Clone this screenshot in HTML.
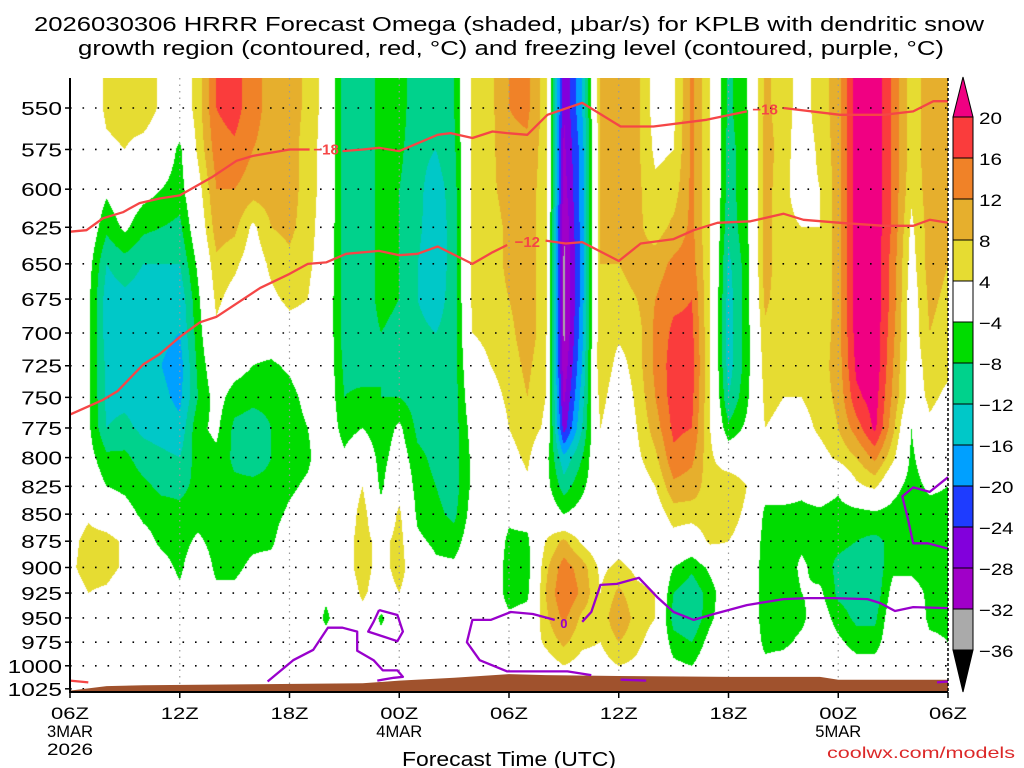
<!DOCTYPE html>
<html>
<head>
<meta charset="utf-8">
<style>
  html,body{margin:0;padding:0;background:#fff;}
  #wrap{position:relative;width:1024px;height:768px;overflow:hidden;background:#fff;}
  #field{position:absolute;left:70px;top:78px;}
  #overlay{position:absolute;left:0;top:0;}
  text{font-family:"Liberation Sans",sans-serif;}
</style>
</head>
<body>
<div id="wrap">
  <canvas id="field" width="878" height="614"></canvas>
  <svg id="overlay" width="1024" height="768">
    <text x="509" y="31" text-anchor="middle" font-size="20" textLength="950" lengthAdjust="spacingAndGlyphs" fill="#000">2026030306 HRRR Forecast Omega (shaded, μbar/s) for KPLB with dendritic snow</text>
    <text x="511" y="55" text-anchor="middle" font-size="20" textLength="866" lengthAdjust="spacingAndGlyphs" fill="#000">growth region (contoured, red, °C) and freezing level (contoured, purple, °C)</text>
    <text x="509" y="766" text-anchor="middle" font-size="20" textLength="214" lengthAdjust="spacingAndGlyphs" fill="#000">Forecast Time (UTC)</text>
    <text x="1015" y="758" text-anchor="end" font-size="16" textLength="188" lengthAdjust="spacingAndGlyphs" fill="#dc2828">coolwx.com/models</text>
    <g id="gridG"></g>
    <g id="terrainG"></g>
    <g id="linesG"></g>
    <g id="axesG"></g>
    <g id="cbarG"></g>
  </svg>
</div>
<script>
// ---------- data ----------
const levels = [550,575,600,625,650,675,700,725,750,775,800,825,850,875,900,925,950,975,1000,1025];
// omega (μbar/s) per forecast hour (0..48), values at each level above
const omegaByHour = [
 [0,0,0,0,0,0,0,0,0,0,0,0,0,2,3,1,0,0,0,0],
 [0,0,0,0,-2,-3,-3,-3,-3,-3,-2,0,3,6,6,4,0,0,0,0],
 [5,3,-3,-7,-12,-14,-14,-13,-13,-12,-7,-4,0,6,6,3,0,0,0,0],
 [6,4,0,-3,-10,-13,-14,-14,-13,-11,-7,-5,-2,3,3,0,0,0,0,0],
 [7,2,-2,-7,-12,-14,-14,-14,-14,-13,-10,-7,-5,-2,0,0,0,0,0,0],
 [3,0,-4,-8,-12,-15,-15,-16,-15,-14,-11,-9,-6,-5,-2,0,0,0,0,0],
 [0,-5,-6,-9,-12,-15,-16,-18,-17,-15,-12,-9,-7,-6,-5,-3,0,0,0,0],
 [6,5,2,0,-3,-5,-6,-7,-8,-5,-6,-7,-6,-3,0,0,0,0,0,0],
 [16,14,12,10,7,5,3,0,-2,-3,-5,-6,-7,-6,-5,-3,0,0,0,0],
 [18,15,12,9,5,2,0,-2,-6,-9,-9,-7,-6,-6,-5,-3,0,0,0,0],
 [13,12,10,3,1,0,-1,-4,-7,-10,-10,-7,-6,-5,-3,-1,4,2,0,0],
 [11,11,10,8,5,3,0,-5,-7,-8,-8,-7,-6,-5,-2,0,3,1,0,0],
 [10,10,10,9,7,5,2,-3,-6,-7,-7,-5,-3,0,0,0,0,0,0,0],
 [7,6,6,6,5,4,2,0,-2,-4,-5,-3,-1,0,0,0,0,0,0,0],
 [2,2,2,1,1,0,0,0,0,0,0,0,0,0,0,-3,-5,-2,0,0],
 [-10,-10,-10,-10,-10,-10,-10,-9,-8,-6,-3,0,0,2,2,0,0,0,0,0],
 [-10,-10,-10,-10,-10,-10,-10,-10,-7,-4,1,4,6,6,6,5,2,0,0,0],
 [-7,-7,-7,-7,-7,-7,-8,-8,-8,-7,-6,-5,-2,2,2,1,-5,-2,0,0],
 [-6,-7,-8,-8,-8,-8,-9,-9,-8,-3,-1,2,5,6,6,4,0,0,0,0],
 [-11,-11,-11,-11,-12,-12,-11,-11,-10,-9,-7,-6,-5,-3,0,0,0,0,0,0],
 [-11,-12,-14,-15,-15,-14,-12,-11,-10,-10,-9,-8,-7,-5,-3,0,0,0,0,0],
 [-8,-9,-10,-10,-10,-10,-10,-10,-10,-10,-10,-10,-9,-6,-3,0,0,0,0,0],
 [5,5,5,5,5,5,4,2,0,-2,-3,-3,-2,-1,0,0,0,0,0,0],
 [7,7,7,6,6,6,5,4,2,0,0,0,0,0,0,0,0,0,0,0],
 [12,11,10,9,9,8,7,6,5,4,2,0,-3,-5,-6,-6,-3,0,0,0],
 [13,11,10,10,10,10,10,9,8,7,5,3,-2,-5,-6,-5,-2,0,0,0],
 [6,6,6,6,6,6,6,5,4,3,-2,-2,0,4,7,8,7,5,1,0],
 [-28,-29,-30,-32,-33,-33,-33,-31,-29,-26,-15,-10,-4,9,14,16,13,9,4,0],
 [-16,-18,-18,-18,-18,-18,-17,-16,-14,-12,-8,-5,-2,3,10,11,7,5,2,0],
 [8,8,8,8,8,8,8,8,6,4,2,0,0,0,3,4,5,4,2,0],
 [9,9,9,9,8,7,5,2,0,-1,0,0,0,2,5,9,12,8,4,0],
 [9,9,9,9,9,8,6,6,5,4,3,1,0,0,3,5,6,5,3,0],
 [2,3,5,6,10,12,13,13,12,10,7,4,1,0,2,4,4,2,0,0],
 [3,4,6,9,13,15,17,18,18,17,15,11,6,2,-4,-8,-10,-6,-3,0],
 [13,13,13,13,14,16,17,18,17,16,13,10,6,0,-7,-11,-12,-8,-4,0],
 [4,4,4,4,4,4,4,4,4,4,5,6,7,5,-3,-6,-5,-2,0,0],
 [-9,-10,-10,-11,-13,-14,-14,-14,-12,-7,0,8,6,4,1,0,0,0,0,0],
 [-4.5,-5,-5,-5,-6,-6,-6,-6,-5,-3,0,4,3,2,0,0,0,0,0,0],
 [9,10,10,10,10,9,7,6,5,4,1,-2,-5,-6,-6,-6,-6,-5,-3,0],
 [6,6,5,5,5,5,5,5,4,3,0,-2,-5,-6,-7,-7,-6,-5,-2,0],
 [2,1,2,4,5,5,5,5,4,2,0,-3,-5,-5,-3,-4,-5,-3,0,0],
 [6,5,4,4,4,4,5,6,6,5,2,-1,-5,-7,-6,-3,-1,0,0,0],
 [10,10,10,10,10,10,10,10,9,8,5,-3,-6,-7,-9,-9,-6,-3,0,0],
 [22,22,22,22,22,22,22,21,19,14,8,3,-6,-8,-10,-10,-9,-6,-2,0],
 [23,23,23,23,23,23,23,23,22,21,13,5,-5,-9,-11,-11,-9,-6,-2,0],
 [15,15,15,15,14,14,13,12,11,9,5,-2,-6,-7,-5,-2,0,0,0,0],
 [6,6,5,3,2,1,1,1,1,-4,-5,-6,-7,-6,-5,-2,0,0,0,0],
 [10,10,10,10,10,9,8,6,5,3,0,-3,-6,-7,-6,-5,-5,-3,0,0],
 [8,8,8,8,8,7,6,5,3,1,-1,-4,-6,-7,-6,-5,-5,-4,0,0]
];
const cbarBounds = [20,16,12,8,4,-4,-8,-12,-16,-20,-24,-28,-32,-36];
const cbarLabels = ["20","16","12","8","4","−4","−8","−12","−16","−20","−24","−28","−32","−36"];
// -18C contour (hour, hPa); NaN = label gap
const t18Hours = [0,0.9,1.8,2.9,3.8,4.9,6,7.8,9.1,10,12,13.1,NaN,14.9,16,16.9,18,20.1,20.8,22,23.1,23.9,25,26.1,28,30.1,31.9,34.8,37,NaN,39,42.1,44.5,46.1,47.2,48];
const t18Pres  = [628,627,619,615,609,606,604,592,582,579,575,575,NaN,576,575,574,576,566,565,568,564,565,566,554,547,561,561,557,552,NaN,550,554,554,552,546,546];
// -12C contour
const t12Hours = [0,1.8,2.6,4,4.9,6,7.1,8,10.4,12,13,14,15.1,16.9,18,19,20.1,22,23.1,23.9,NaN,26,27.1,28,30,31.2,33,34.1,35.4,37.2,39,40.1,42.1,44.5,46.1,47,48];
const t12Pres  = [764,752,745,724,716,703,692,688,667,657,650,649,643,641,644,643,638,650,642,637,NaN,634,636,635,648,636,633,627,622,621,616,620,622,624,624,620,622];
// freezing level (0C) pieces
const fzA_h = [10.8,12.2,13.3,14.1,14.9,15.7,15.7,16.6,17.1,17.9,18.2,17.7,16.8];
const fzA_p = [1017,994,983,960,960,964,984,994,1005,1005,1012,1013,1016];
const fzB_h = [16.9,17.9,18.2,17.9,17.1,16.3,16.6,16.9];
const fzB_p = [942,947,964,974,969,964,954,942];
const fzC_h = [28.5,27.2,25.3,23.9,22.4,21.7,22,23,24.1,25.3,26.5,NaN,28,28.5,29,29.9,31.1,32.1,33,34.1,35.2,37,39,40.3,41.7,43.6,44.3,45.1,46.1,48];
const fzC_p = [1010,1006,1006,1006,994,975,952,952,944,946,952,NaN,954,944,917,916,910,929,944,952,946,937,931,930,930,931,935,943,939,940];
const fzD_h = [30.1,31.5];
const fzD_p = [1015,1016];
const fzE_h = [47.4,48];
const fzE_p = [1018,1017];
const fzF_h = [48,47,46.1,45.5,45.8,46.1,46.9,48];
const fzF_p = [817,830,826,834,854,877,877,882];
const redLowH = [0,1];
const redLowP = [1016,1018];
// terrain surface pressure
const sfcHours = [0,2,4,10,16,18,21,24,26,30,36,41,42,48];
const sfcPres  = [1027,1022,1021,1020,1019,1016,1013,1009,1010,1011,1012,1012,1015,1015];
// axis ticks
const xTickHours = [0,6,12,18,24,30,36,42,48];
const xTickLabels = ["06Z","12Z","18Z","00Z","06Z","12Z","18Z","00Z","06Z"];
const xDateHours = [0,18,42];
const xDateLabels = ["3MAR","4MAR","5MAR"];

// ---------- axes ----------
const X0=70, X1=948, Y0=78, Y1=692;
const xOf = h => X0 + h*(X1-X0)/48;
const yOf = p => 108 + Math.log(p/550)*933;
const pOfY = y => 550*Math.exp((y-108)/933);

const fillColors = ["#000000","#aaaaaa","#a000c8","#8200dc","#1e3cff","#00a0ff","#00c8c8","#00d28c","#00dc00","#ffffff","#e6dc32","#e6af2d","#f08228","#fa3c3c","#f00082"];
const thresholds = [-36,-32,-28,-24,-20,-16,-12,-8,-4,4,8,12,16,20];
function colorIdx(v){let i=0;while(i<thresholds.length && v>=thresholds[i]) i++;return i;}
function hexRGB(h){return [parseInt(h.substr(1,2),16),parseInt(h.substr(3,2),16),parseInt(h.substr(5,2),16)];}
const rgb = fillColors.map(hexRGB);

// ---------- shading ----------
(function(){
  const cv=document.getElementById('field');const ctx=cv.getContext('2d');
  const W=cv.width,H=cv.height;const img=ctx.createImageData(W,H);const d=img.data;
  const nH=omegaByHour.length, nL=levels.length;
  for(let py=0;py<H;py++){
    const p=pOfY(Y0+py+0.5);
    let li=(p-levels[0])/(levels[1]-levels[0]); li=Math.max(0,Math.min(nL-1.0001,li));
    const l0=Math.floor(li), lf=li-l0;
    for(let px=0;px<W;px++){
      let hh=(px+0.5)*48/W; hh=Math.max(0,Math.min(nH-1.0001,hh));
      const h0=Math.floor(hh), hf=hh-h0;
      const a=omegaByHour[h0][l0], b=omegaByHour[h0+1][l0], c=omegaByHour[h0][l0+1], e=omegaByHour[h0+1][l0+1];
      const v=(a*(1-hf)+b*hf)*(1-lf)+(c*(1-hf)+e*hf)*lf;
      const col=rgb[colorIdx(v)];const k=(py*W+px)*4;
      d[k]=col[0];d[k+1]=col[1];d[k+2]=col[2];d[k+3]=255;
    }
  }
  ctx.putImageData(img,0,0);
})();

// ---------- svg ----------
const NS="http://www.w3.org/2000/svg";
function mk(tag,attrs,parent){const el=document.createElementNS(NS,tag);for(const k in attrs) el.setAttribute(k,attrs[k]);parent.appendChild(el);return el;}
function pathFrom(hs,ps){let s="",pen=false;for(let i=0;i<hs.length;i++){if(isNaN(hs[i])){pen=false;continue;}s+=(pen?"L":"M")+xOf(hs[i]).toFixed(1)+","+yOf(ps[i]).toFixed(1)+" ";pen=true;}return s;}

const gridG=document.getElementById('gridG');
levels.forEach(function(p){
  const ln=mk('line',{x1:X0,x2:X1,y1:yOf(p),y2:yOf(p),stroke:'#000','stroke-width':1.6,'stroke-dasharray':'1.6 10.9'},gridG);
  
  
});
xTickHours.forEach(function(h){
  if(h===0||h===48) return;
  const ln=mk('line',{x1:xOf(h),x2:xOf(h),y1:Y0,y2:Y1,stroke:'#999','stroke-width':1.2,'stroke-dasharray':'1.5 5'},gridG);
  
  
});

const terrainG=document.getElementById('terrainG');
let tp="M"+xOf(sfcHours[0])+","+Y1+" ";
for(let i=0;i<sfcHours.length;i++) tp+="L"+xOf(sfcHours[i]).toFixed(1)+","+yOf(sfcPres[i]).toFixed(1)+" ";
tp+="L"+xOf(sfcHours[sfcHours.length-1])+","+Y1+" Z";
const terr=mk('path',{d:tp,fill:'#a0522d'},terrainG);



const linesG=document.getElementById('linesG');
const l18=mk('path',{d:pathFrom(t18Hours,t18Pres),fill:'none',stroke:'#f54646','stroke-width':2.3,'stroke-linejoin':'round'},linesG);


const l12=mk('path',{d:pathFrom(t12Hours,t12Pres),fill:'none',stroke:'#f54646','stroke-width':2.3,'stroke-linejoin':'round'},linesG);


const lrl=mk('path',{d:pathFrom(redLowH,redLowP),fill:'none',stroke:'#f54646','stroke-width':2.3},linesG);


[[fzA_h,fzA_p],[fzB_h,fzB_p],[fzC_h,fzC_p],[fzD_h,fzD_p],[fzE_h,fzE_p],[fzF_h,fzF_p]].forEach(function(s){
  const pl=mk('path',{d:pathFrom(s[0],s[1]),fill:'none',stroke:'#9900cc','stroke-width':2.3,'stroke-linejoin':'round'},linesG);
  
  
});
function lbl(txt,h,p,col,name,fs){
  const t=mk('text',{x:xOf(h),y:yOf(p)+5,'text-anchor':'middle','font-size':fs,'font-weight':'bold',fill:col},linesG);
  t.textContent=txt;
  
  
}
lbl("−18",14,575,'#f54646','label-minus-18-a',15);
lbl("−18",38,551,'#f54646','label-minus-18-b',15);
lbl("−12",25,635,'#f54646','label-minus-12',15);
lbl("0",27,955,'#9900cc','label-freezing-0',13);

const axesG=document.getElementById('axesG');
const la=mk('line',{x1:X0,x2:X0,y1:Y0,y2:Y1+1,stroke:'#000','stroke-width':2},axesG);


const ra=mk('line',{x1:X1,x2:X1,y1:Y0,y2:Y1+1,stroke:'#000','stroke-width':1.5,'stroke-dasharray':'3 2'},axesG);


const ba=mk('line',{x1:X0,x2:X1,y1:Y1,y2:Y1,stroke:'#000','stroke-width':2},axesG);


levels.forEach(function(p){
  const tk=mk('line',{x1:X0-5,x2:X0,y1:yOf(p),y2:yOf(p),stroke:'#000','stroke-width':1.5},axesG);
  
  
  const s=String(p);
  const t=mk('text',{x:62,y:yOf(p)+7,'text-anchor':'end','font-size':18,textLength:s.length*13.6,lengthAdjust:'spacingAndGlyphs',fill:'#000'},axesG);
  t.textContent=s;
  
  
});
xTickHours.forEach(function(h,i){
  const tk=mk('line',{x1:xOf(h),x2:xOf(h),y1:Y1,y2:Y1+6,stroke:'#000','stroke-width':1.5},axesG);
  
  
  const t=mk('text',{x:xOf(h),y:719,'text-anchor':'middle','font-size':17,textLength:38,lengthAdjust:'spacingAndGlyphs',fill:'#000'},axesG);
  t.textContent=xTickLabels[i];
  
  
});
xDateHours.forEach(function(h,i){
  const t=mk('text',{x:xOf(h),y:737,'text-anchor':'middle','font-size':17,textLength:46,lengthAdjust:'spacingAndGlyphs',fill:'#000'},axesG);
  t.textContent=xDateLabels[i];
  
  
});
const yr=mk('text',{x:xOf(0),y:755,'text-anchor':'middle','font-size':17,textLength:46,lengthAdjust:'spacingAndGlyphs',fill:'#000'},axesG);
yr.textContent="2026";



// colorbar
const cbarG=document.getElementById('cbarG');
const CBX=953, CBW=20, CBTOP=117, CBSTEP=41;
const tri1=mk('polygon',{points:(CBX)+","+CBTOP+" "+(CBX+CBW)+","+CBTOP+" "+(CBX+CBW/2)+",77",fill:fillColors[14],stroke:'#000','stroke-width':1},cbarG);


for(let i=0;i<cbarBounds.length-1;i++){
  const r=mk('rect',{x:CBX,y:CBTOP+i*CBSTEP,width:CBW,height:CBSTEP,fill:fillColors[13-i],stroke:'#000','stroke-width':1},cbarG);
  
  
}
const bot=CBTOP+(cbarBounds.length-1)*CBSTEP;
const tri2=mk('polygon',{points:CBX+","+bot+" "+(CBX+CBW)+","+bot+" "+(CBX+CBW/2)+",692",fill:'#000',stroke:'#000','stroke-width':1},cbarG);


cbarBounds.forEach(function(b,i){
  const s=cbarLabels[i];
  const t=mk('text',{x:979,y:CBTOP+i*CBSTEP+7,'font-size':17,textLength:s.length*11.5,lengthAdjust:'spacingAndGlyphs',fill:'#000'},cbarG);
  t.textContent=s;
  
  
});
</script>
</body>
</html>
